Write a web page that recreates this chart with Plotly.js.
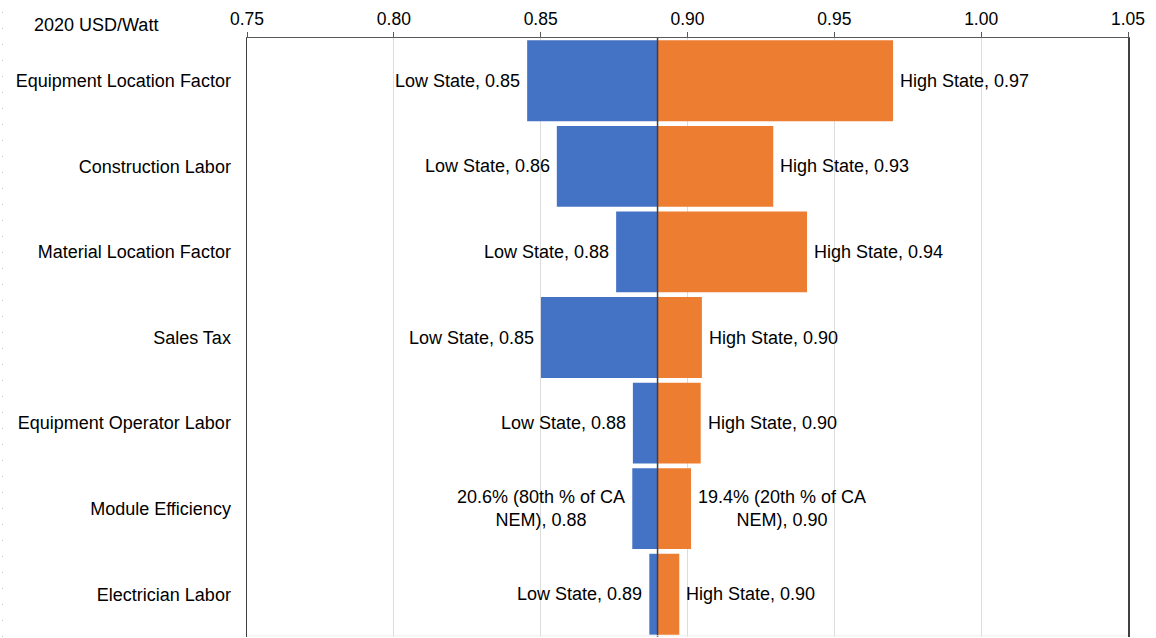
<!DOCTYPE html>
<html>
<head>
<meta charset="utf-8">
<script src="https://cdn.plot.ly/plotly-3.0.1.min.js"></script>
<style>
  html, body { margin: 0; padding: 0; background: #ffffff; }
  #chart { width: 1156px; height: 638px; }
</style>
</head>
<body>
<div id="chart"></div>
<script>
// Tornado chart: installed cost sensitivity around the base case (2020 USD/Watt)
const categories = [
  'Equipment Location Factor',
  'Construction Labor',
  'Material Location Factor',
  'Sales Tax',
  'Equipment Operator Labor',
  'Module Efficiency',
  'Electrician Labor'
];
const baseValue = 0.8898;
const lowValues  = [0.8454, 0.8555, 0.8757, 0.8501, 0.8814, 0.8812, 0.8870];
const highValues = [0.9700, 0.9292, 0.9407, 0.9049, 0.9045, 0.9012, 0.8972];
const lowNames  = ['Low State', 'Low State', 'Low State', 'Low State', 'Low State',
                   '20.6% (80th % of CA<br>NEM)', 'Low State'];
const highNames = ['High State', 'High State', 'High State', 'High State', 'High State',
                   '19.4% (20th % of CA<br>NEM)', 'High State'];
const tickValues = [0.75, 0.80, 0.85, 0.90, 0.95, 1.00, 1.05];
const tickLabels = ['0.75', '0.80', '0.85', '0.90', '0.95', '1.00', '1.05'];

const FONT = 'Liberation Sans, Arial, Helvetica, sans-serif';
const BLUE = '#4472C4';
const ORANGE = '#ED7D31';

const lowTrace = {
  type: 'bar',
  orientation: 'h',
  y: categories,
  x: lowValues.map(v => v - baseValue),
  base: baseValue,
  marker: { color: BLUE, line: { width: 0 } },
  hoverinfo: 'skip',
  showlegend: false
};
const highTrace = {
  type: 'bar',
  orientation: 'h',
  y: categories,
  x: highValues.map(v => v - baseValue),
  base: baseValue,
  marker: { color: ORANGE, line: { width: 0 } },
  hoverinfo: 'skip',
  showlegend: false
};

// Data labels sit just outside the end of each bar
const annotations = [];
categories.forEach((c, i) => {
  annotations.push({
    x: lowValues[i], y: c, xref: 'x', yref: 'y',
    text: lowNames[i] + ', ' + lowValues[i].toFixed(2),
    showarrow: false, xanchor: 'right', yanchor: 'middle', xshift: -5, align: 'center',
    font: { family: FONT, size: 18, color: '#000000' }
  });
  annotations.push({
    x: highValues[i], y: c, xref: 'x', yref: 'y',
    text: highNames[i] + ', ' + highValues[i].toFixed(2),
    showarrow: false, xanchor: 'left', yanchor: 'middle', xshift: 5, align: 'center',
    font: { family: FONT, size: 18, color: '#000000' }
  });
});
// Unit label above the category names
annotations.push({
  x: -0.2435, y: 1.022, xref: 'paper', yref: 'paper',
  text: '2020 USD/Watt', showarrow: false, xanchor: 'left', yanchor: 'middle',
  font: { family: FONT, size: 18, color: '#000000' }
});

const layout = {
  width: 1156,
  height: 638,
  margin: { l: 247, r: 28, t: 38, b: 1 },
  paper_bgcolor: '#ffffff',
  plot_bgcolor: '#ffffff',
  barmode: 'overlay',
  bargap: 0.055,
  font: { family: FONT, size: 17.5, color: '#000000' },
  xaxis: {
    side: 'top',
    range: [0.75, 1.05],
    tickvals: tickValues,
    ticktext: tickLabels,
    ticks: 'outside',
    ticklen: 5,
    tickcolor: '#595959',
    tickwidth: 1,
    showgrid: true,
    gridcolor: '#dddddd',
    gridwidth: 1,
    showline: true,
    linecolor: '#595959',
    linewidth: 1,
    zeroline: false,
    tickfont: { family: FONT, size: 17.5, color: '#000000' },
    fixedrange: true
  },
  yaxis: {
    type: 'category',
    autorange: 'reversed',
    showgrid: false,
    zeroline: false,
    showline: true,
    mirror: true,
    linecolor: '#404040',
    linewidth: 1.5,
    ticks: '',
    ticklabelstandoff: 11,
    tickfont: { family: FONT, size: 18, color: '#000000' },
    fixedrange: true
  },
  shapes: [
    // base-case divider
    { type: 'line', xref: 'x', yref: 'paper', x0: baseValue, x1: baseValue, y0: 0, y1: 1,
      line: { color: '#404040', width: 1.5 } },
    // faint bottom edge
    { type: 'line', xref: 'paper', yref: 'paper', x0: 0, x1: 1, y0: 0.002, y1: 0.002,
      line: { color: '#eeeeee', width: 1 } },
    // dotted page edge on the far left
    { type: 'line', xref: 'paper', yref: 'paper', x0: -0.2775, x1: -0.2775, y0: 0, y1: 1.06,
      line: { color: '#c8c8c8', width: 1, dash: '1px,15px' } }
  ],
  annotations: annotations,
  showlegend: false
};

Plotly.newPlot('chart', [lowTrace, highTrace], layout, { displayModeBar: false, staticPlot: true });
</script>
</body>
</html>
